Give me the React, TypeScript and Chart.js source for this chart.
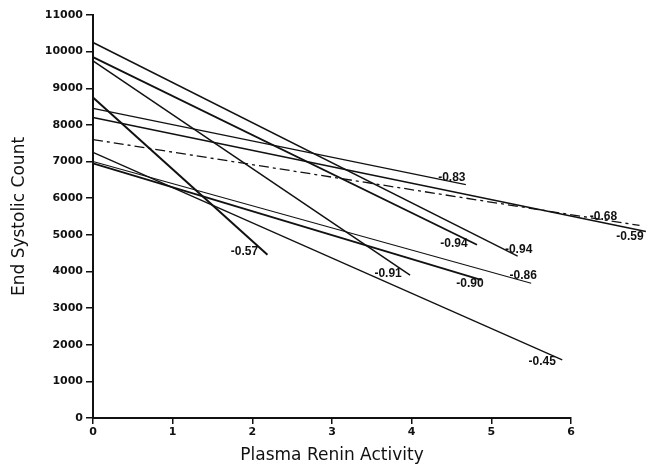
import React, { useEffect, useRef } from "react";
import { Chart, registerables } from "chart.js";

Chart.register(...registerables);

// Regression lines: value at x = 0 and at the line's right end
const lineStartY = [10250, 9850, 9750, 8750, 8450, 8200, 7600, 7250, 7000, 6950];
const lineEndX = [5.33, 4.82, 3.98, 2.19, 4.68, 6.94, 6.86, 5.89, 5.5, 4.87];
const lineEndY = [4420, 4730, 3900, 4455, 6370, 5090, 5255, 1585, 3680, 3770];
const correlations = ["-0.94", "-0.94", "-0.91", "-0.57", "-0.83", "-0.59", "-0.68", "-0.45", "-0.86", "-0.90"];

const xTicks = [0, 1, 2, 3, 4, 5, 6];
const yTicks = [0, 1000, 2000, 3000, 4000, 5000, 6000, 7000, 8000, 9000, 10000, 11000];

// styles (not data)
const lineWidths = [1.5, 1.8, 1.5, 2.0, 1.3, 1.6, 1.3, 1.3, 1.1, 2.0];
const lineDashes: number[][] = [[], [], [], [], [], [], [10, 4, 3, 4], [], [], []];
const labelOffsets: [number, number][] = [
  [1, -6], [-23, -1], [-22, -1], [-23, -3], [-14, -7],
  [-16, 5], [-36, -9], [-20, 2], [-8, -7], [-11, 4],
];

const endLabelPlugin = {
  id: "endLabels",
  afterDatasetsDraw(chart: any) {
    const ctx = chart.ctx;
    ctx.save();
    ctx.fillStyle = "#111";
    ctx.font = "bold 12px 'Liberation Sans', Arial, sans-serif";
    ctx.textAlign = "center";
    ctx.textBaseline = "middle";
    chart.data.datasets.forEach((ds: any, i: number) => {
      const meta = chart.getDatasetMeta(i);
      const pt = meta.data[meta.data.length - 1];
      if (!pt) return;
      const [dx, dy] = labelOffsets[i];
      ctx.fillText(ds.label, pt.x + dx, pt.y + dy);
    });
    ctx.restore();
  },
};

export default function App() {
  const ref = useRef<HTMLCanvasElement | null>(null);

  useEffect(() => {
    if (!ref.current) return;
    const datasets = lineStartY.map((y0, i) => ({
      label: correlations[i],
      data: [
        { x: 0, y: y0 },
        { x: lineEndX[i], y: lineEndY[i] },
      ],
      borderColor: "#111",
      borderWidth: lineWidths[i],
      borderDash: lineDashes[i],
      pointRadius: 0,
      fill: false,
      tension: 0,
      clip: false as any,
    }));
    const tickFont = { family: "'DejaVu Sans', sans-serif", size: 11, weight: "bold" as any };
    const chart = new Chart(ref.current, {
      type: "line",
      data: { datasets },
      options: {
        animation: false,
        responsive: false,
        layout: { padding: { left: 0, right: 85, top: 15, bottom: 0 } },
        plugins: { legend: { display: false }, tooltip: { enabled: false } },
        scales: {
          x: {
            type: "linear",
            min: 0,
            max: 6,
            afterBuildTicks: (s: any) => {
              s.ticks = xTicks.map((v) => ({ value: v }));
            },
            afterFit: (s: any) => {
              s.height = 50;
            },
            ticks: { color: "#111", font: tickFont, padding: 2, callback: (v: any) => String(v) },
            grid: { drawOnChartArea: false, tickLength: 6, color: "#111", lineWidth: 1.5 },
            border: { display: true, color: "#111", width: 2 },
            title: {
              display: true,
              text: "Plasma Renin Activity",
              color: "#111",
              font: { family: "'DejaVu Sans', sans-serif", size: 17 },
              padding: { top: 0, bottom: 2 },
            },
          },
          y: {
            type: "linear",
            min: 0,
            max: 11000,
            afterBuildTicks: (s: any) => {
              s.ticks = yTicks.map((v) => ({ value: v }));
            },
            afterFit: (s: any) => {
              s.width = 93;
            },
            ticks: { color: "#111", font: tickFont, padding: 3, callback: (v: any) => String(v) },
            grid: { drawOnChartArea: false, tickLength: 7, color: "#111", lineWidth: 1.5 },
            border: { display: true, color: "#111", width: 2 },
            title: {
              display: true,
              text: "End Systolic Count",
              color: "#111",
              font: { family: "'DejaVu Sans', sans-serif", size: 17 },
              padding: { top: 9, bottom: 0 },
            },
          },
        },
      },
      plugins: [endLabelPlugin],
    });
    return () => chart.destroy();
  }, []);

  return (
    <div style={{ position: "fixed", left: 0, top: 0, width: 656, height: 468, background: "#fff" }}>
      <canvas ref={ref} width={656} height={468} />
    </div>
  );
}
